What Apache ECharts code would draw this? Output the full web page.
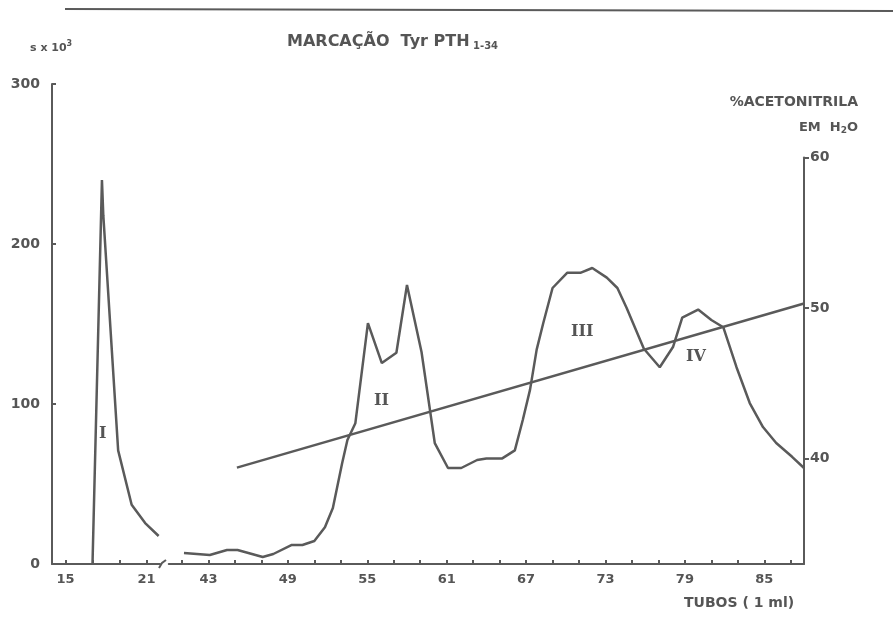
<!DOCTYPE html>
<html>
<head>
<meta charset="utf-8">
<script src="https://cdn.jsdelivr.net/npm/echarts@6/dist/echarts.min.js"></script>
<style>
  html, body { margin: 0; padding: 0; background: #fff; }
  #chart { width: 893px; height: 625px; }
</style>
</head>
<body>
<div id="chart"></div>
<script>
// peak I (tubes 17-22, left of the axis break)
const tubesI = [17, 17.7, 17.8, 18.9, 19.9, 20.9, 21.9]
const countsI = [0, 240, 218, 71, 37, 25.6, 17.5]

// peaks II-IV (tubes 41-88, right of the break)
const tubesMain = [41.15, 43.1, 44.4, 45.2, 47.1, 47.9, 49.3, 50.1, 51.0, 51.8,
  52.4, 53.1, 53.5, 54.1, 55.05, 56.1, 57.2, 58.0, 59.1, 60.1,
  61.1, 62.1, 63.3, 64.0, 65.2, 66.15, 66.75, 67.3, 67.8, 68.3,
  69.0, 70.1, 71.1, 72.0, 73.1, 73.9, 74.6, 75.9, 77.1, 78.1,
  78.8, 80.0, 81.0, 81.9, 82.9, 83.9, 84.9, 85.9, 87.1, 88.0]
const countsMain = [6.9, 5.6, 8.75, 8.75, 4.4, 6.25, 11.9, 11.9, 14.4, 23,
  35, 63, 77.5, 88, 150.6, 125.6, 132, 174.4, 132.5, 75.6,
  60, 60, 65, 66, 66, 71, 90, 109, 134, 150.6,
  172.5, 182, 182, 185, 179, 172.5, 160, 134.5, 123, 135.6,
  154, 159, 152.5, 148, 123, 100.6, 85.6, 75.6, 67, 60]

// acetonitrile gradient (% in H2O)
const tubesAcn = [45.15, 88]
const acn = [39.4, 50.3]

// tick labels
const ticksLeft = [15, 17, 19, 21]
const labelsLeft = [15, 21]
const ticksMain = [41, 43, 45, 47, 49, 51, 53, 55, 57, 59, 61, 63, 65, 67, 69, 71, 73, 75, 77, 79, 81, 83, 85, 87]
const labelsMain = [43, 49, 55, 61, 67, 73, 79, 85]
const labelsAcn = [40, 50, 60]

const INK = '#5a5a5a'
const TXT = '#555'
const FONT = 'DejaVu Sans'

const pairs = (xs, ys) => xs.map((x, i) => [x, ys[i]])

const tubeAxis = (grid, min, max, ticks, labels) => ({
  type: 'value', gridIndex: grid, min, max,
  axisLine: { lineStyle: { color: INK, width: 2 } },
  axisTick: { inside: true, length: 4, customValues: ticks, lineStyle: { color: INK, width: 2 } },
  axisLabel: { customValues: labels, margin: 9, color: TXT, fontSize: 13, fontWeight: 'bold', fontFamily: FONT },
  splitLine: { show: false },
})

const lineSeries = (x, y, data) => ({
  type: 'line', xAxisIndex: x, yAxisIndex: y, data,
  showSymbol: false, symbol: 'none',
  lineStyle: { color: INK, width: 2.5 },
  silent: true, animation: false,
})

const chart = echarts.init(document.getElementById('chart'))
chart.setOption({
  backgroundColor: '#fff',
  animation: false,
  grid: [
    { left: 52, width: 108, top: 84, bottom: 61 },
    { left: 168.76, right: 89, top: 84, bottom: 61 },
    { left: 168.76, right: 89, top: 157.5, bottom: 61 },
  ],
  xAxis: [
    tubeAxis(0, 14, 22, ticksLeft, labelsLeft),
    tubeAxis(1, 40, 88, ticksMain, labelsMain),
    { type: 'value', gridIndex: 2, min: 40, max: 88, show: false },
  ],
  yAxis: [
    {
      type: 'value', gridIndex: 0, min: 0, max: 300, interval: 100,
      axisLine: { show: true, lineStyle: { color: INK, width: 2 } },
      axisTick: { show: true, inside: true, length: 4, lineStyle: { color: INK, width: 2 } },
      axisLabel: { margin: 12, color: TXT, fontSize: 14, fontWeight: 'bold', fontFamily: FONT },
      splitLine: { show: false },
    },
    { type: 'value', gridIndex: 1, min: 0, max: 300, show: false },
    {
      type: 'value', gridIndex: 2, min: 33, max: 60, position: 'right',
      axisLine: { show: true, lineStyle: { color: INK, width: 2 } },
      axisTick: { show: true, length: 5, customValues: labelsAcn, lineStyle: { color: INK, width: 2 } },
      axisLabel: { customValues: labelsAcn, margin: 6, color: TXT, fontSize: 14, fontWeight: 'bold', fontFamily: FONT },
      splitLine: { show: false },
    },
  ],
  series: [
    lineSeries(0, 0, pairs(tubesI, countsI)),
    lineSeries(1, 1, pairs(tubesMain, countsMain)),
    lineSeries(2, 2, pairs(tubesAcn, acn)),
  ],
  graphic: [
    // page edge from the scan
    { type: 'line', shape: { x1: 65, y1: 9, x2: 893, y2: 11 }, style: { stroke: INK, lineWidth: 2 } },
    // axis break mark
    { type: 'polyline', shape: { points: [[159, 568], [162, 563], [166, 560]] }, style: { stroke: INK, lineWidth: 2, fill: null } },
    {
      type: 'text', left: 287, top: 34,
      style: {
        text: '{t|MARCAÇÃO  Tyr PTH}{s| 1-34}',
        rich: {
          t: { fontSize: 16, fontWeight: 'bold', fontFamily: FONT, fill: TXT },
          s: { fontSize: 10, fontWeight: 'bold', fontFamily: FONT, fill: TXT, padding: [8, 0, 0, 0] },
        },
      },
    },
    {
      type: 'text', left: 30, top: 40,
      style: {
        text: '{a|s x 10}{b|3}',
        rich: {
          a: { fontSize: 11, fontWeight: 'bold', fontFamily: FONT, fill: TXT },
          b: { fontSize: 8, fontWeight: 'bold', fontFamily: FONT, fill: TXT, padding: [0, 0, 8, 0] },
        },
      },
    },
    {
      type: 'text', right: 35, top: 95,
      style: { text: '%ACETONITRILA', fontSize: 14, fontWeight: 'bold', fontFamily: FONT, fill: TXT },
    },
    {
      type: 'text', right: 35, top: 121,
      style: {
        text: '{a|EM  H}{b|2}{a|O}',
        rich: {
          a: { fontSize: 13, fontWeight: 'bold', fontFamily: FONT, fill: TXT },
          b: { fontSize: 9, fontWeight: 'bold', fontFamily: FONT, fill: TXT, padding: [6, 0, 0, 0] },
        },
      },
    },
    {
      type: 'text', left: 684, top: 596,
      style: { text: 'TUBOS ( 1 ml)', fontSize: 14, fontWeight: 'bold', fontFamily: FONT, fill: TXT },
    },
    // peak numerals
    { type: 'text', left: 99, top: 426, style: { text: 'I', fontSize: 16, fontWeight: 'bold', fontFamily: 'DejaVu Serif', fill: TXT } },
    { type: 'text', left: 374, top: 393, style: { text: 'II', fontSize: 16, fontWeight: 'bold', fontFamily: 'DejaVu Serif', fill: TXT } },
    { type: 'text', left: 571, top: 324, style: { text: 'III', fontSize: 16, fontWeight: 'bold', fontFamily: 'DejaVu Serif', fill: TXT } },
    { type: 'text', left: 686, top: 349, style: { text: 'IV', fontSize: 16, fontWeight: 'bold', fontFamily: 'DejaVu Serif', fill: TXT } },
  ],
})
</script>
</body>
</html>
